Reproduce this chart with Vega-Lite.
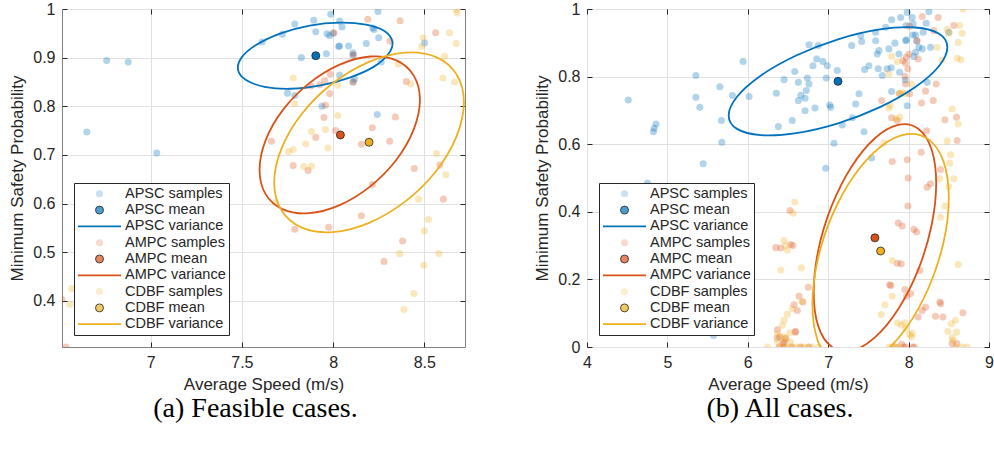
{
"$schema": "https://vega.github.io/schema/vega-lite/v6.json",
"background": "white",
"padding": {"left": 8, "top": 0, "right": 0, "bottom": 0},
"spacing": 67,
"datasets": {
"as": [
{"s":"APSC samples","x":6.759,"y":0.894},{"s":"APSC samples","x":6.877,"y":0.891},{"s":"APSC samples","x":6.65,"y":0.747},{"s":"APSC samples","x":7.033,"y":0.704},{"s":"APSC samples","x":7.611,"y":0.932},{"s":"APSC samples","x":7.722,"y":0.948},{"s":"APSC samples","x":7.79,"y":0.969},{"s":"APSC samples","x":7.894,"y":0.977},{"s":"APSC samples","x":7.905,"y":0.953},{"s":"APSC samples","x":7.987,"y":0.989},{"s":"APSC samples","x":8.036,"y":0.975},{"s":"APSC samples","x":8.049,"y":0.963},{"s":"APSC samples","x":7.967,"y":0.949},{"s":"APSC samples","x":7.981,"y":0.945},{"s":"APSC samples","x":8.031,"y":0.923},{"s":"APSC samples","x":8.085,"y":0.924},{"s":"APSC samples","x":8.109,"y":0.91},{"s":"APSC samples","x":8.182,"y":0.929},{"s":"APSC samples","x":8.218,"y":0.961},{"s":"APSC samples","x":8.224,"y":0.958},{"s":"APSC samples","x":8.246,"y":0.995},{"s":"APSC samples","x":8.25,"y":0.941},{"s":"APSC samples","x":8.264,"y":0.891},{"s":"APSC samples","x":7.826,"y":0.9},{"s":"APSC samples","x":7.963,"y":0.908},{"s":"APSC samples","x":7.75,"y":0.827},{"s":"APSC samples","x":7.79,"y":0.822},{"s":"APSC samples","x":7.939,"y":0.8},{"s":"APSC samples","x":8.109,"y":0.85},{"s":"APSC samples","x":8.118,"y":0.856},{"s":"APSC samples","x":8.036,"y":0.864},{"s":"APSC samples","x":8.242,"y":0.783},{"s":"APSC samples","x":8.501,"y":0.93},{"s":"APSC samples","x":8.0,"y":0.95},{"s":"APSC samples","x":8.11,"y":0.905},{"s":"APSC samples","x":8.035,"y":0.924},
{"s":"AMPC samples","x":6.513,"y":0.403},{"s":"AMPC samples","x":6.536,"y":0.305},{"s":"AMPC samples","x":7.662,"y":0.728},{"s":"AMPC samples","x":7.781,"y":0.678},{"s":"AMPC samples","x":7.79,"y":0.547},{"s":"AMPC samples","x":7.863,"y":0.668},{"s":"AMPC samples","x":7.905,"y":0.736},{"s":"AMPC samples","x":7.95,"y":0.777},{"s":"AMPC samples","x":7.958,"y":0.802},{"s":"AMPC samples","x":7.981,"y":0.826},{"s":"AMPC samples","x":8.005,"y":0.951},{"s":"AMPC samples","x":8.014,"y":0.75},{"s":"AMPC samples","x":7.976,"y":0.551},{"s":"AMPC samples","x":8.155,"y":0.722},{"s":"AMPC samples","x":8.215,"y":0.756},{"s":"AMPC samples","x":8.215,"y":0.639},{"s":"AMPC samples","x":8.155,"y":0.575},{"s":"AMPC samples","x":8.31,"y":0.728},{"s":"AMPC samples","x":8.341,"y":0.778},{"s":"AMPC samples","x":8.401,"y":0.851},{"s":"AMPC samples","x":8.445,"y":0.672},{"s":"AMPC samples","x":8.381,"y":0.523},{"s":"AMPC samples","x":8.279,"y":0.481},{"s":"AMPC samples","x":8.605,"y":0.609},{"s":"AMPC samples","x":8.585,"y":0.679},{"s":"AMPC samples","x":8.562,"y":0.951},{"s":"AMPC samples","x":8.367,"y":0.976},{"s":"AMPC samples","x":8.19,"y":0.979},{"s":"AMPC samples","x":8.312,"y":0.934},{"s":"AMPC samples","x":8.11,"y":0.906},{"s":"AMPC samples","x":7.954,"y":0.853},{"s":"AMPC samples","x":7.927,"y":0.844},{"s":"AMPC samples","x":7.985,"y":0.866},{"s":"AMPC samples","x":7.88,"y":0.842},{"s":"AMPC samples","x":8.11,"y":0.85},
{"s":"CDBF samples","x":6.568,"y":0.425},{"s":"CDBF samples","x":6.558,"y":0.393},{"s":"CDBF samples","x":7.781,"y":0.858},{"s":"CDBF samples","x":7.79,"y":0.805},{"s":"CDBF samples","x":7.755,"y":0.707},{"s":"CDBF samples","x":7.781,"y":0.711},{"s":"CDBF samples","x":7.85,"y":0.723},{"s":"CDBF samples","x":7.881,"y":0.748},{"s":"CDBF samples","x":7.839,"y":0.676},{"s":"CDBF samples","x":7.881,"y":0.677},{"s":"CDBF samples","x":7.958,"y":0.752},{"s":"CDBF samples","x":7.972,"y":0.714},{"s":"CDBF samples","x":8.025,"y":0.781},{"s":"CDBF samples","x":8.025,"y":0.843},{"s":"CDBF samples","x":8.358,"y":0.887},{"s":"CDBF samples","x":8.425,"y":0.846},{"s":"CDBF samples","x":8.494,"y":0.941},{"s":"CDBF samples","x":8.485,"y":0.923},{"s":"CDBF samples","x":8.638,"y":0.951},{"s":"CDBF samples","x":8.675,"y":0.999},{"s":"CDBF samples","x":8.68,"y":0.992},{"s":"CDBF samples","x":8.675,"y":0.929},{"s":"CDBF samples","x":8.611,"y":0.903},{"s":"CDBF samples","x":8.602,"y":0.858},{"s":"CDBF samples","x":8.666,"y":0.85},{"s":"CDBF samples","x":8.567,"y":0.703},{"s":"CDBF samples","x":8.618,"y":0.659},{"s":"CDBF samples","x":8.468,"y":0.609},{"s":"CDBF samples","x":8.523,"y":0.567},{"s":"CDBF samples","x":8.501,"y":0.544},{"s":"CDBF samples","x":8.58,"y":0.497},{"s":"CDBF samples","x":8.365,"y":0.497},{"s":"CDBF samples","x":8.498,"y":0.473},{"s":"CDBF samples","x":8.443,"y":0.415},{"s":"CDBF samples","x":8.388,"y":0.382},{"s":"CDBF samples","x":7.684,"y":0.602}
],
"am": [
{"s":"APSC mean","x":7.905,"y":0.904},{"s":"AMPC mean","x":8.04,"y":0.741},{"s":"CDBF mean","x":8.197,"y":0.726}
],
"ae": [
{"s":"APSC variance","k":0,"x":8.325,"y":0.933},{"s":"APSC variance","k":1,"x":8.304,"y":0.908},{"s":"APSC variance","k":2,"x":8.222,"y":0.881},{"s":"APSC variance","k":3,"x":8.091,"y":0.859},{"s":"APSC variance","k":4,"x":7.932,"y":0.843},{"s":"APSC variance","k":5,"x":7.768,"y":0.836},{"s":"APSC variance","k":6,"x":7.624,"y":0.84},{"s":"APSC variance","k":7,"x":7.523,"y":0.854},{"s":"APSC variance","k":8,"x":7.479,"y":0.875},{"s":"APSC variance","k":9,"x":7.5,"y":0.901},{"s":"APSC variance","k":10,"x":7.582,"y":0.927},{"s":"APSC variance","k":11,"x":7.713,"y":0.95},{"s":"APSC variance","k":12,"x":7.872,"y":0.966},{"s":"APSC variance","k":13,"x":8.036,"y":0.972},{"s":"APSC variance","k":14,"x":8.18,"y":0.968},{"s":"APSC variance","k":15,"x":8.281,"y":0.955},
{"s":"AMPC variance","k":0,"x":8.476,"y":0.8132},{"s":"AMPC variance","k":1,"x":8.442,"y":0.863},{"s":"AMPC variance","k":2,"x":8.347,"y":0.8943},{"s":"AMPC variance","k":3,"x":8.204,"y":0.9023},{"s":"AMPC variance","k":4,"x":8.036,"y":0.8857},{"s":"AMPC variance","k":5,"x":7.868,"y":0.8471},{"s":"AMPC variance","k":6,"x":7.725,"y":0.7925},{"s":"AMPC variance","k":7,"x":7.63,"y":0.73},{"s":"AMPC variance","k":8,"x":7.597,"y":0.6692},{"s":"AMPC variance","k":9,"x":7.63,"y":0.6194},{"s":"AMPC variance","k":10,"x":7.725,"y":0.5881},{"s":"AMPC variance","k":11,"x":7.868,"y":0.5801},{"s":"AMPC variance","k":12,"x":8.036,"y":0.5967},{"s":"AMPC variance","k":13,"x":8.204,"y":0.6353},{"s":"AMPC variance","k":14,"x":8.347,"y":0.6899},{"s":"AMPC variance","k":15,"x":8.442,"y":0.7524},
{"s":"CDBF variance","k":0,"x":8.717,"y":0.8083},{"s":"CDBF variance","k":1,"x":8.677,"y":0.8654},{"s":"CDBF variance","k":2,"x":8.565,"y":0.9012},{"s":"CDBF variance","k":3,"x":8.396,"y":0.9104},{"s":"CDBF variance","k":4,"x":8.197,"y":0.8914},{"s":"CDBF variance","k":5,"x":7.998,"y":0.8472},{"s":"CDBF variance","k":6,"x":7.829,"y":0.7846},{"s":"CDBF variance","k":7,"x":7.717,"y":0.713},{"s":"CDBF variance","k":8,"x":7.677,"y":0.6433},{"s":"CDBF variance","k":9,"x":7.717,"y":0.5862},{"s":"CDBF variance","k":10,"x":7.829,"y":0.5504},{"s":"CDBF variance","k":11,"x":7.998,"y":0.5412},{"s":"CDBF variance","k":12,"x":8.197,"y":0.5602},{"s":"CDBF variance","k":13,"x":8.396,"y":0.6044},{"s":"CDBF variance","k":14,"x":8.565,"y":0.667},{"s":"CDBF variance","k":15,"x":8.677,"y":0.7386}
],
"bs": [
{"s":"APSC samples","x":4.513,"y":0.731},{"s":"APSC samples","x":4.826,"y":0.637},{"s":"APSC samples","x":4.836,"y":0.647},{"s":"APSC samples","x":4.857,"y":0.66},{"s":"APSC samples","x":4.753,"y":0.485},{"s":"APSC samples","x":5.354,"y":0.803},{"s":"APSC samples","x":5.354,"y":0.739},{"s":"APSC samples","x":5.404,"y":0.709},{"s":"APSC samples","x":5.445,"y":0.542},{"s":"APSC samples","x":5.573,"y":0.034},{"s":"APSC samples","x":5.652,"y":0.77},{"s":"APSC samples","x":5.672,"y":0.67},{"s":"APSC samples","x":5.677,"y":0.606},{"s":"APSC samples","x":5.809,"y":0.744},{"s":"APSC samples","x":5.942,"y":0.845},{"s":"APSC samples","x":6.016,"y":0.741},{"s":"APSC samples","x":6.355,"y":0.751},{"s":"APSC samples","x":6.38,"y":0.652},{"s":"APSC samples","x":6.451,"y":0.791},{"s":"APSC samples","x":6.554,"y":0.67},{"s":"APSC samples","x":6.584,"y":0.815},{"s":"APSC samples","x":6.629,"y":0.783},{"s":"APSC samples","x":6.629,"y":0.729},{"s":"APSC samples","x":6.66,"y":0.745},{"s":"APSC samples","x":6.712,"y":0.736},{"s":"APSC samples","x":6.712,"y":0.699},{"s":"APSC samples","x":6.728,"y":0.759},{"s":"APSC samples","x":6.74,"y":0.796},{"s":"APSC samples","x":6.761,"y":0.778},{"s":"APSC samples","x":6.761,"y":0.894},{"s":"APSC samples","x":6.811,"y":0.832},{"s":"APSC samples","x":6.836,"y":0.707},{"s":"APSC samples","x":6.857,"y":0.852},{"s":"APSC samples","x":6.877,"y":0.892},{"s":"APSC samples","x":6.935,"y":0.845},{"s":"APSC samples","x":6.976,"y":0.796},{"s":"APSC samples","x":6.989,"y":0.832},{"s":"APSC samples","x":7.019,"y":0.716},{"s":"APSC samples","x":7.031,"y":0.709},{"s":"APSC samples","x":7.072,"y":0.603},{"s":"APSC samples","x":7.113,"y":0.818},{"s":"APSC samples","x":6.969,"y":0.529},{"s":"APSC samples","x":7.175,"y":0.657},{"s":"APSC samples","x":7.292,"y":0.892},{"s":"APSC samples","x":7.3,"y":0.678},{"s":"APSC samples","x":7.342,"y":0.719},{"s":"APSC samples","x":7.383,"y":0.749},{"s":"APSC samples","x":7.404,"y":0.921},{"s":"APSC samples","x":7.416,"y":0.904},{"s":"APSC samples","x":7.445,"y":0.637},{"s":"APSC samples","x":7.453,"y":0.821},{"s":"APSC samples","x":7.507,"y":0.832},{"s":"APSC samples","x":7.54,"y":0.559},{"s":"APSC samples","x":7.59,"y":0.906},{"s":"APSC samples","x":7.59,"y":0.931},{"s":"APSC samples","x":7.61,"y":0.867},{"s":"APSC samples","x":7.631,"y":0.877},{"s":"APSC samples","x":7.622,"y":0.823},{"s":"APSC samples","x":7.673,"y":0.803},{"s":"APSC samples","x":7.714,"y":0.946},{"s":"APSC samples","x":7.734,"y":0.823},{"s":"APSC samples","x":7.755,"y":0.882},{"s":"APSC samples","x":7.789,"y":0.968},{"s":"APSC samples","x":7.789,"y":0.756},{"s":"APSC samples","x":7.784,"y":0.826},{"s":"APSC samples","x":7.83,"y":0.899},{"s":"APSC samples","x":7.88,"y":0.867},{"s":"APSC samples","x":7.888,"y":0.813},{"s":"APSC samples","x":7.901,"y":0.975},{"s":"APSC samples","x":7.963,"y":0.906},{"s":"APSC samples","x":7.975,"y":0.909},{"s":"APSC samples","x":7.97,"y":0.951},{"s":"APSC samples","x":7.983,"y":0.99},{"s":"APSC samples","x":8.045,"y":0.975},{"s":"APSC samples","x":8.053,"y":0.923},{"s":"APSC samples","x":8.057,"y":0.956},{"s":"APSC samples","x":8.066,"y":0.859},{"s":"APSC samples","x":8.087,"y":0.872},{"s":"APSC samples","x":8.1,"y":0.905},{"s":"APSC samples","x":8.128,"y":0.887},{"s":"APSC samples","x":8.17,"y":0.882},{"s":"APSC samples","x":8.182,"y":0.931},{"s":"APSC samples","x":8.219,"y":0.958},{"s":"APSC samples","x":8.252,"y":0.992},{"s":"APSC samples","x":8.231,"y":0.783},{"s":"APSC samples","x":8.273,"y":0.887},{"s":"APSC samples","x":8.501,"y":0.931},{"s":"APSC samples","x":7.983,"y":0.714},{"s":"APSC samples","x":7.96,"y":0.79},{"s":"APSC samples","x":8.087,"y":0.923},
{"s":"AMPC samples","x":8.169,"y":0.978},{"s":"AMPC samples","x":8.368,"y":0.975},{"s":"AMPC samples","x":8.563,"y":0.951},{"s":"AMPC samples","x":8.314,"y":0.936},{"s":"AMPC samples","x":8.012,"y":0.949},{"s":"AMPC samples","x":8.107,"y":0.906},{"s":"AMPC samples","x":8.12,"y":0.852},{"s":"AMPC samples","x":7.929,"y":0.847},{"s":"AMPC samples","x":7.97,"y":0.857},{"s":"AMPC samples","x":8.004,"y":0.867},{"s":"AMPC samples","x":7.96,"y":0.84},{"s":"AMPC samples","x":7.991,"y":0.823},{"s":"AMPC samples","x":7.954,"y":0.801},{"s":"AMPC samples","x":7.963,"y":0.778},{"s":"AMPC samples","x":8.343,"y":0.778},{"s":"AMPC samples","x":8.211,"y":0.757},{"s":"AMPC samples","x":7.665,"y":0.729},{"s":"AMPC samples","x":7.888,"y":0.749},{"s":"AMPC samples","x":8.012,"y":0.749},{"s":"AMPC samples","x":8.161,"y":0.722},{"s":"AMPC samples","x":8.306,"y":0.729},{"s":"AMPC samples","x":8.451,"y":0.672},{"s":"AMPC samples","x":8.596,"y":0.68},{"s":"AMPC samples","x":7.789,"y":0.678},{"s":"AMPC samples","x":7.859,"y":0.67},{"s":"AMPC samples","x":8.224,"y":0.64},{"s":"AMPC samples","x":8.604,"y":0.611},{"s":"AMPC samples","x":8.157,"y":0.576},{"s":"AMPC samples","x":7.796,"y":0.549},{"s":"AMPC samples","x":7.983,"y":0.554},{"s":"AMPC samples","x":8.398,"y":0.525},{"s":"AMPC samples","x":7.995,"y":0.5},{"s":"AMPC samples","x":8.273,"y":0.483},{"s":"AMPC samples","x":8.231,"y":0.473},{"s":"AMPC samples","x":7.991,"y":0.417},{"s":"AMPC samples","x":7.871,"y":0.367},{"s":"AMPC samples","x":7.921,"y":0.358},{"s":"AMPC samples","x":8.066,"y":0.348},{"s":"AMPC samples","x":8.099,"y":0.34},{"s":"AMPC samples","x":7.859,"y":0.248},{"s":"AMPC samples","x":7.908,"y":0.246},{"s":"AMPC samples","x":8.14,"y":0.226},{"s":"AMPC samples","x":7.764,"y":0.184},{"s":"AMPC samples","x":7.78,"y":0.182},{"s":"AMPC samples","x":7.954,"y":0.17},{"s":"AMPC samples","x":8.025,"y":0.158},{"s":"AMPC samples","x":7.975,"y":0.15},{"s":"AMPC samples","x":8.389,"y":0.133},{"s":"AMPC samples","x":8.4,"y":0.128},{"s":"AMPC samples","x":8.211,"y":0.118},{"s":"AMPC samples","x":8.169,"y":0.108},{"s":"AMPC samples","x":8.12,"y":0.089},{"s":"AMPC samples","x":8.335,"y":0.091},{"s":"AMPC samples","x":8.426,"y":0.089},{"s":"AMPC samples","x":8.675,"y":0.101},{"s":"AMPC samples","x":7.913,"y":0.008},{"s":"AMPC samples","x":7.963,"y":0.0},{"s":"AMPC samples","x":8.05,"y":0.0},{"s":"AMPC samples","x":7.84,"y":0.0},{"s":"AMPC samples","x":7.94,"y":0.0},{"s":"AMPC samples","x":8.07,"y":0.0},{"s":"AMPC samples","x":8.542,"y":0.01},{"s":"AMPC samples","x":8.6,"y":0.01},{"s":"AMPC samples","x":6.753,"y":0.177},{"s":"AMPC samples","x":6.637,"y":0.151},{"s":"AMPC samples","x":6.687,"y":0.133},{"s":"AMPC samples","x":6.575,"y":0.125},{"s":"AMPC samples","x":6.616,"y":0.108},{"s":"AMPC samples","x":6.525,"y":0.404},{"s":"AMPC samples","x":6.348,"y":0.294},{"s":"AMPC samples","x":6.41,"y":0.293},{"s":"AMPC samples","x":6.534,"y":0.303},{"s":"AMPC samples","x":6.56,"y":0.3},{"s":"AMPC samples","x":6.451,"y":0.015},{"s":"AMPC samples","x":6.588,"y":0.044},{"s":"AMPC samples","x":6.368,"y":0.051},{"s":"AMPC samples","x":6.368,"y":0.027},{"s":"AMPC samples","x":6.472,"y":0.025},{"s":"AMPC samples","x":6.398,"y":0.03},{"s":"AMPC samples","x":6.44,"y":0.01},{"s":"AMPC samples","x":6.39,"y":0.0},{"s":"AMPC samples","x":6.45,"y":0.0},{"s":"AMPC samples","x":6.55,"y":0.0},{"s":"AMPC samples","x":6.66,"y":0.0},{"s":"AMPC samples","x":6.76,"y":0.0},{"s":"AMPC samples","x":6.596,"y":0.046},
{"s":"CDBF samples","x":8.678,"y":1.0},{"s":"CDBF samples","x":8.634,"y":0.951},{"s":"CDBF samples","x":8.667,"y":0.928},{"s":"CDBF samples","x":8.617,"y":0.901},{"s":"CDBF samples","x":8.501,"y":0.928},{"s":"CDBF samples","x":8.48,"y":0.94},{"s":"CDBF samples","x":8.356,"y":0.887},{"s":"CDBF samples","x":8.417,"y":0.849},{"s":"CDBF samples","x":8.604,"y":0.854},{"s":"CDBF samples","x":8.65,"y":0.85},{"s":"CDBF samples","x":7.789,"y":0.86},{"s":"CDBF samples","x":7.859,"y":0.844},{"s":"CDBF samples","x":7.755,"y":0.808},{"s":"CDBF samples","x":8.037,"y":0.778},{"s":"CDBF samples","x":7.88,"y":0.751},{"s":"CDBF samples","x":7.92,"y":0.752},{"s":"CDBF samples","x":7.96,"y":0.75},{"s":"CDBF samples","x":7.755,"y":0.707},{"s":"CDBF samples","x":7.77,"y":0.715},{"s":"CDBF samples","x":7.839,"y":0.675},{"s":"CDBF samples","x":7.89,"y":0.68},{"s":"CDBF samples","x":8.542,"y":0.704},{"s":"CDBF samples","x":8.617,"y":0.66},{"s":"CDBF samples","x":8.48,"y":0.609},{"s":"CDBF samples","x":8.522,"y":0.569},{"s":"CDBF samples","x":8.51,"y":0.544},{"s":"CDBF samples","x":8.565,"y":0.498},{"s":"CDBF samples","x":8.385,"y":0.498},{"s":"CDBF samples","x":8.501,"y":0.475},{"s":"CDBF samples","x":8.451,"y":0.417},{"s":"CDBF samples","x":8.398,"y":0.384},{"s":"CDBF samples","x":7.693,"y":0.604},{"s":"CDBF samples","x":7.796,"y":0.256},{"s":"CDBF samples","x":8.617,"y":0.244},{"s":"CDBF samples","x":7.703,"y":0.125},{"s":"CDBF samples","x":7.66,"y":0.096},{"s":"CDBF samples","x":7.796,"y":0.15},{"s":"CDBF samples","x":7.859,"y":0.071},{"s":"CDBF samples","x":7.95,"y":0.072},{"s":"CDBF samples","x":7.91,"y":0.065},{"s":"CDBF samples","x":8.012,"y":0.036},{"s":"CDBF samples","x":8.04,"y":0.03},{"s":"CDBF samples","x":7.963,"y":0.054},{"s":"CDBF samples","x":8.045,"y":0.041},{"s":"CDBF samples","x":8.53,"y":0.069},{"s":"CDBF samples","x":8.584,"y":0.079},{"s":"CDBF samples","x":8.488,"y":0.046},{"s":"CDBF samples","x":8.596,"y":0.044},{"s":"CDBF samples","x":8.542,"y":0.027},{"s":"CDBF samples","x":8.55,"y":0.02},{"s":"CDBF samples","x":6.244,"y":0.0},{"s":"CDBF samples","x":6.389,"y":0.0},{"s":"CDBF samples","x":6.472,"y":0.0},{"s":"CDBF samples","x":6.534,"y":0.0},{"s":"CDBF samples","x":6.596,"y":0.0},{"s":"CDBF samples","x":6.65,"y":0.0},{"s":"CDBF samples","x":6.7,"y":0.0},{"s":"CDBF samples","x":6.75,"y":0.0},{"s":"CDBF samples","x":6.803,"y":0.0},{"s":"CDBF samples","x":6.886,"y":0.0},{"s":"CDBF samples","x":7.755,"y":0.0},{"s":"CDBF samples","x":7.796,"y":0.0},{"s":"CDBF samples","x":7.83,"y":0.0},{"s":"CDBF samples","x":7.88,"y":0.0},{"s":"CDBF samples","x":8.584,"y":0.0},{"s":"CDBF samples","x":8.666,"y":0.0},{"s":"CDBF samples","x":8.728,"y":0.0},{"s":"CDBF samples","x":6.584,"y":0.429},{"s":"CDBF samples","x":6.563,"y":0.396},{"s":"CDBF samples","x":6.451,"y":0.315},{"s":"CDBF samples","x":6.492,"y":0.286},{"s":"CDBF samples","x":6.47,"y":0.3},{"s":"CDBF samples","x":6.41,"y":0.228},{"s":"CDBF samples","x":6.666,"y":0.234},{"s":"CDBF samples","x":6.671,"y":0.135},{"s":"CDBF samples","x":6.554,"y":0.113},{"s":"CDBF samples","x":6.492,"y":0.097},{"s":"CDBF samples","x":6.451,"y":0.079},{"s":"CDBF samples","x":6.43,"y":0.064},{"s":"CDBF samples","x":6.522,"y":0.042},{"s":"CDBF samples","x":6.368,"y":0.039},{"s":"CDBF samples","x":6.45,"y":0.03},{"s":"CDBF samples","x":6.472,"y":0.025},{"s":"CDBF samples","x":6.53,"y":0.015},{"s":"CDBF samples","x":6.368,"y":0.017}
],
"bm": [
{"s":"APSC mean","x":7.122,"y":0.786},{"s":"AMPC mean","x":7.581,"y":0.323},{"s":"CDBF mean","x":7.652,"y":0.284}
],
"be": [
{"s":"APSC variance","k":0,"x":8.482,"y":0.8868},{"s":"APSC variance","k":1,"x":8.379,"y":0.9267},{"s":"APSC variance","k":2,"x":8.084,"y":0.9453},{"s":"APSC variance","k":3,"x":7.643,"y":0.9395},{"s":"APSC variance","k":4,"x":7.122,"y":0.9104},{"s":"APSC variance","k":5,"x":6.602,"y":0.8623},{"s":"APSC variance","k":6,"x":6.16,"y":0.8027},{"s":"APSC variance","k":7,"x":5.866,"y":0.7405},{"s":"APSC variance","k":8,"x":5.762,"y":0.6852},{"s":"APSC variance","k":9,"x":5.866,"y":0.6453},{"s":"APSC variance","k":10,"x":6.16,"y":0.6267},{"s":"APSC variance","k":11,"x":6.602,"y":0.6325},{"s":"APSC variance","k":12,"x":7.122,"y":0.6616},{"s":"APSC variance","k":13,"x":7.643,"y":0.7097},{"s":"APSC variance","k":14,"x":8.084,"y":0.7693},{"s":"APSC variance","k":15,"x":8.379,"y":0.8315},
{"s":"AMPC variance","k":0,"x":8.343,"y":0.4844},{"s":"AMPC variance","k":1,"x":8.285,"y":0.5849},{"s":"AMPC variance","k":2,"x":8.12,"y":0.6455},{"s":"AMPC variance","k":3,"x":7.872,"y":0.6571},{"s":"AMPC variance","k":4,"x":7.581,"y":0.6177},{"s":"AMPC variance","k":5,"x":7.29,"y":0.5335},{"s":"AMPC variance","k":6,"x":7.043,"y":0.4173},{"s":"AMPC variance","k":7,"x":6.877,"y":0.2867},{"s":"AMPC variance","k":8,"x":6.82,"y":0.1616},{"s":"AMPC variance","k":9,"x":6.877,"y":0.0611},{"s":"AMPC variance","k":10,"x":7.043,"y":0.0005},{"s":"AMPC variance","k":11,"x":7.29,"y":-0.0111},{"s":"AMPC variance","k":12,"x":7.581,"y":0.0283},{"s":"AMPC variance","k":13,"x":7.872,"y":0.1125},{"s":"AMPC variance","k":14,"x":8.12,"y":0.2287},{"s":"AMPC variance","k":15,"x":8.285,"y":0.3593},
{"s":"CDBF variance","k":0,"x":8.5,"y":0.4414},{"s":"CDBF variance","k":1,"x":8.436,"y":0.5476},{"s":"CDBF variance","k":2,"x":8.252,"y":0.6136},{"s":"CDBF variance","k":3,"x":7.977,"y":0.6295},{"s":"CDBF variance","k":4,"x":7.652,"y":0.5927},{"s":"CDBF variance","k":5,"x":7.327,"y":0.5089},{"s":"CDBF variance","k":6,"x":7.052,"y":0.3908},{"s":"CDBF variance","k":7,"x":6.868,"y":0.2564},{"s":"CDBF variance","k":8,"x":6.804,"y":0.1262},{"s":"CDBF variance","k":9,"x":6.868,"y":0.02},{"s":"CDBF variance","k":10,"x":7.052,"y":-0.046},{"s":"CDBF variance","k":11,"x":7.327,"y":-0.0619},{"s":"CDBF variance","k":12,"x":7.652,"y":-0.0251},{"s":"CDBF variance","k":13,"x":7.977,"y":0.0587},{"s":"CDBF variance","k":14,"x":8.252,"y":0.1768},{"s":"CDBF variance","k":15,"x":8.436,"y":0.3112}
]
},
"hconcat": [
{
"width": 403, "height": 338,
"title": {"text": "(a) Feasible cases."},
"resolve": {"axis": {"x": "independent", "y": "independent"}},
"layer": [
{"data":{"name":"as"},"mark":{"type":"point","filled":true,"clip":true},
"encoding":{
"x": {"field":"x","type":"quantitative","scale":{"domain":[6.514,8.723],"nice":false,"zero":false},"axis":{"values":[7,7.5,8,8.5],"format":"~g","title":"Average Speed (m/s)"}},
"y": {"field":"y","type":"quantitative","scale":{"domain":[0.305,1],"nice":false,"zero":false},"axis":{"values":[0.4,0.5,0.6,0.7,0.8,0.9,1],"format":"~g","title":"Minimum Safety Probability"}},
"fill":{"field":"s","type":"nominal","title":null,"scale":{"domain":["APSC samples","APSC mean","APSC variance","AMPC samples","AMPC mean","AMPC variance","CDBF samples","CDBF mean","CDBF variance"],"range":["#0072BD","#0072BD","#0072BD","#D95319","#D95319","#D95319","#EDB120","#EDB120","#EDB120"]}},
"stroke":{"field":"s","type":"nominal","title":null,"scale":{"domain":["APSC samples","APSC mean","APSC variance","AMPC samples","AMPC mean","AMPC variance","CDBF samples","CDBF mean","CDBF variance"],"range":["#0072BD","#262626","#0072BD","#D95319","#262626","#D95319","#EDB120","#262626","#EDB120"]}},
"shape":{"field":"s","type":"nominal","title":null,"scale":{"domain":["APSC samples","APSC mean","APSC variance","AMPC samples","AMPC mean","AMPC variance","CDBF samples","CDBF mean","CDBF variance"],"range":["circle","circle","stroke","circle","circle","stroke","circle","circle","stroke"]}},
"size":{"field":"s","type":"nominal","title":null,"scale":{"type":"ordinal","domain":["APSC samples","APSC mean","APSC variance","AMPC samples","AMPC mean","AMPC variance","CDBF samples","CDBF mean","CDBF variance"],"range":[50,64,1849,50,64,1849,50,64,1849]}},
"strokeWidth":{"field":"s","type":"nominal","title":null,"scale":{"type":"ordinal","domain":["APSC samples","APSC mean","APSC variance","AMPC samples","AMPC mean","AMPC variance","CDBF samples","CDBF mean","CDBF variance"],"range":[0,0.8,1.8,0,0.8,1.8,0,0.8,1.8]}},
"opacity":{"field":"s","type":"nominal","title":null,"scale":{"type":"ordinal","domain":["APSC samples","APSC mean","APSC variance","AMPC samples","AMPC mean","AMPC variance","CDBF samples","CDBF mean","CDBF variance"],"range":[0.3,1,1,0.3,1,1,0.3,1,1]}}
}},
{"data":{"name":"ae"},"mark":{"type":"line","interpolate":"cardinal-closed","strokeWidth":1.8,"clip":true},
"encoding":{
"x": {"field":"x","type":"quantitative","scale":{"domain":[6.514,8.723],"nice":false,"zero":false},"axis":{"orient":"top","values":[7,7.5,8,8.5],"labels":false,"title":null,"grid":false}},
"y": {"field":"y","type":"quantitative","scale":{"domain":[0.305,1],"nice":false,"zero":false},"axis":{"orient":"right","values":[0.4,0.5,0.6,0.7,0.8,0.9,1],"labels":false,"title":null,"grid":false}},
"stroke":{"field":"s","type":"nominal","title":null,"scale":{"domain":["APSC samples","APSC mean","APSC variance","AMPC samples","AMPC mean","AMPC variance","CDBF samples","CDBF mean","CDBF variance"],"range":["#0072BD","#262626","#0072BD","#D95319","#262626","#D95319","#EDB120","#262626","#EDB120"]}},
"order":{"field":"k","type":"quantitative"}
}},
{"data":{"name":"am"},"mark":{"type":"point","filled":true,"clip":true},
"encoding":{
"x": {"field":"x","type":"quantitative","axis":null},
"y": {"field":"y","type":"quantitative","axis":null},
"fill":{"field":"s","type":"nominal","title":null,"scale":{"domain":["APSC samples","APSC mean","APSC variance","AMPC samples","AMPC mean","AMPC variance","CDBF samples","CDBF mean","CDBF variance"],"range":["#0072BD","#0072BD","#0072BD","#D95319","#D95319","#D95319","#EDB120","#EDB120","#EDB120"]}},
"stroke":{"field":"s","type":"nominal","title":null,"scale":{"domain":["APSC samples","APSC mean","APSC variance","AMPC samples","AMPC mean","AMPC variance","CDBF samples","CDBF mean","CDBF variance"],"range":["#0072BD","#262626","#0072BD","#D95319","#262626","#D95319","#EDB120","#262626","#EDB120"]}},
"shape":{"field":"s","type":"nominal","title":null,"scale":{"domain":["APSC samples","APSC mean","APSC variance","AMPC samples","AMPC mean","AMPC variance","CDBF samples","CDBF mean","CDBF variance"],"range":["circle","circle","stroke","circle","circle","stroke","circle","circle","stroke"]}},
"size":{"field":"s","type":"nominal","title":null,"scale":{"type":"ordinal","domain":["APSC samples","APSC mean","APSC variance","AMPC samples","AMPC mean","AMPC variance","CDBF samples","CDBF mean","CDBF variance"],"range":[50,64,1849,50,64,1849,50,64,1849]}},
"strokeWidth":{"field":"s","type":"nominal","title":null,"scale":{"type":"ordinal","domain":["APSC samples","APSC mean","APSC variance","AMPC samples","AMPC mean","AMPC variance","CDBF samples","CDBF mean","CDBF variance"],"range":[0,0.8,1.8,0,0.8,1.8,0,0.8,1.8]}},
"opacity":{"field":"s","type":"nominal","title":null,"scale":{"type":"ordinal","domain":["APSC samples","APSC mean","APSC variance","AMPC samples","AMPC mean","AMPC variance","CDBF samples","CDBF mean","CDBF variance"],"range":[0.3,1,1,0.3,1,1,0.3,1,1]}}
}}
]
},
{
"width": 402, "height": 338,
"title": {"text": "(b) All cases."},
"resolve": {"axis": {"x": "independent", "y": "independent"}},
"layer": [
{"data":{"name":"bs"},"mark":{"type":"point","filled":true,"clip":true},
"encoding":{
"x": {"field":"x","type":"quantitative","scale":{"domain":[4,9],"nice":false,"zero":false},"axis":{"values":[4,5,6,7,8,9],"format":"~g","title":"Average Speed (m/s)"}},
"y": {"field":"y","type":"quantitative","scale":{"domain":[0,1],"nice":false,"zero":false},"axis":{"values":[0,0.2,0.4,0.6,0.8,1],"format":"~g","title":"Minimum Safety Probability"}},
"fill":{"field":"s","type":"nominal","title":null,"scale":{"domain":["APSC samples","APSC mean","APSC variance","AMPC samples","AMPC mean","AMPC variance","CDBF samples","CDBF mean","CDBF variance"],"range":["#0072BD","#0072BD","#0072BD","#D95319","#D95319","#D95319","#EDB120","#EDB120","#EDB120"]}},
"stroke":{"field":"s","type":"nominal","title":null,"scale":{"domain":["APSC samples","APSC mean","APSC variance","AMPC samples","AMPC mean","AMPC variance","CDBF samples","CDBF mean","CDBF variance"],"range":["#0072BD","#262626","#0072BD","#D95319","#262626","#D95319","#EDB120","#262626","#EDB120"]}},
"shape":{"field":"s","type":"nominal","title":null,"scale":{"domain":["APSC samples","APSC mean","APSC variance","AMPC samples","AMPC mean","AMPC variance","CDBF samples","CDBF mean","CDBF variance"],"range":["circle","circle","stroke","circle","circle","stroke","circle","circle","stroke"]}},
"size":{"field":"s","type":"nominal","title":null,"scale":{"type":"ordinal","domain":["APSC samples","APSC mean","APSC variance","AMPC samples","AMPC mean","AMPC variance","CDBF samples","CDBF mean","CDBF variance"],"range":[50,64,1849,50,64,1849,50,64,1849]}},
"strokeWidth":{"field":"s","type":"nominal","title":null,"scale":{"type":"ordinal","domain":["APSC samples","APSC mean","APSC variance","AMPC samples","AMPC mean","AMPC variance","CDBF samples","CDBF mean","CDBF variance"],"range":[0,0.8,1.8,0,0.8,1.8,0,0.8,1.8]}},
"opacity":{"field":"s","type":"nominal","title":null,"scale":{"type":"ordinal","domain":["APSC samples","APSC mean","APSC variance","AMPC samples","AMPC mean","AMPC variance","CDBF samples","CDBF mean","CDBF variance"],"range":[0.3,1,1,0.3,1,1,0.3,1,1]}}
}},
{"data":{"name":"be"},"mark":{"type":"line","interpolate":"cardinal-closed","strokeWidth":1.8,"clip":true},
"encoding":{
"x": {"field":"x","type":"quantitative","scale":{"domain":[4,9],"nice":false,"zero":false},"axis":{"orient":"top","values":[4,5,6,7,8,9],"labels":false,"title":null,"grid":false}},
"y": {"field":"y","type":"quantitative","scale":{"domain":[0,1],"nice":false,"zero":false},"axis":{"orient":"right","values":[0,0.2,0.4,0.6,0.8,1],"labels":false,"title":null,"grid":false}},
"stroke":{"field":"s","type":"nominal","title":null,"scale":{"domain":["APSC samples","APSC mean","APSC variance","AMPC samples","AMPC mean","AMPC variance","CDBF samples","CDBF mean","CDBF variance"],"range":["#0072BD","#262626","#0072BD","#D95319","#262626","#D95319","#EDB120","#262626","#EDB120"]}},
"order":{"field":"k","type":"quantitative"}
}},
{"data":{"name":"bm"},"mark":{"type":"point","filled":true,"clip":true},
"encoding":{
"x": {"field":"x","type":"quantitative","axis":null},
"y": {"field":"y","type":"quantitative","axis":null},
"fill":{"field":"s","type":"nominal","title":null,"scale":{"domain":["APSC samples","APSC mean","APSC variance","AMPC samples","AMPC mean","AMPC variance","CDBF samples","CDBF mean","CDBF variance"],"range":["#0072BD","#0072BD","#0072BD","#D95319","#D95319","#D95319","#EDB120","#EDB120","#EDB120"]}},
"stroke":{"field":"s","type":"nominal","title":null,"scale":{"domain":["APSC samples","APSC mean","APSC variance","AMPC samples","AMPC mean","AMPC variance","CDBF samples","CDBF mean","CDBF variance"],"range":["#0072BD","#262626","#0072BD","#D95319","#262626","#D95319","#EDB120","#262626","#EDB120"]}},
"shape":{"field":"s","type":"nominal","title":null,"scale":{"domain":["APSC samples","APSC mean","APSC variance","AMPC samples","AMPC mean","AMPC variance","CDBF samples","CDBF mean","CDBF variance"],"range":["circle","circle","stroke","circle","circle","stroke","circle","circle","stroke"]}},
"size":{"field":"s","type":"nominal","title":null,"scale":{"type":"ordinal","domain":["APSC samples","APSC mean","APSC variance","AMPC samples","AMPC mean","AMPC variance","CDBF samples","CDBF mean","CDBF variance"],"range":[50,64,1849,50,64,1849,50,64,1849]}},
"strokeWidth":{"field":"s","type":"nominal","title":null,"scale":{"type":"ordinal","domain":["APSC samples","APSC mean","APSC variance","AMPC samples","AMPC mean","AMPC variance","CDBF samples","CDBF mean","CDBF variance"],"range":[0,0.8,1.8,0,0.8,1.8,0,0.8,1.8]}},
"opacity":{"field":"s","type":"nominal","title":null,"scale":{"type":"ordinal","domain":["APSC samples","APSC mean","APSC variance","AMPC samples","AMPC mean","AMPC variance","CDBF samples","CDBF mean","CDBF variance"],"range":[0.3,1,1,0.3,1,1,0.3,1,1]}}
}}
]
}
],
"resolve": {
"scale": {"fill":"independent","stroke":"independent","shape":"independent","size":"independent","strokeWidth":"independent","opacity":"independent"},
"legend": {"fill":"independent","stroke":"independent","shape":"independent","size":"independent","strokeWidth":"independent","opacity":"independent"}
},
"config": {
"font": "Liberation Sans",
"view": {"stroke": "#808080", "strokeWidth": 1},
"axis": {"labelFont":"Liberation Sans","labelFontSize":16,"labelColor":"#262626","labelFlush":false,"titleFont":"Liberation Sans","titleFontSize":17,"titleFontWeight":"normal","titleColor":"#262626","gridColor":"#e0e0e0","domain":false,"tickColor":"#262626","tickSize":-5,"labelPadding":12,"titlePadding":6},
"legend": {"orient":"bottom-left","offset":12,"padding":3,"fillColor":"white","strokeColor":"#262626","labelFont":"Liberation Sans","labelFontSize":14.5,"labelColor":"#262626","labelOffset":3,"clipHeight":15.6,"rowPadding":-0.7,"symbolOffset":0,"labelLimit":220,"cornerRadius":0},
"title": {"font":"Liberation Serif","fontSize":28,"fontWeight":"normal","color":"#000000","orient":"bottom","anchor":"middle","frame":"group","offset":3,"dx":-8}
}
}
